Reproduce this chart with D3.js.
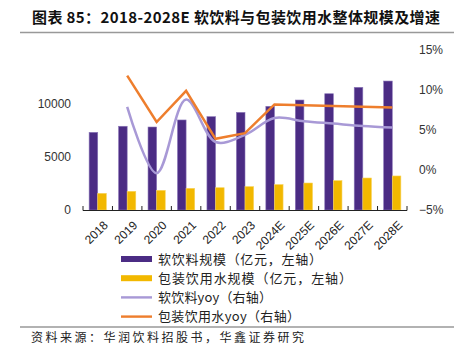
<!DOCTYPE html>
<html>
<head>
<meta charset="utf-8">
<script src="https://cdn.jsdelivr.net/npm/d3@7"></script>
<style>
  body { margin: 0; background: #fff; }
  text { font-family: "Liberation Sans", Arial, "Noto Sans CJK SC", sans-serif; }
  .cjk { font-family: "Noto Sans CJK SC", sans-serif; }
</style>
</head>
<body>
<script>
var years = ["2018", "2019", "2020", "2021", "2022", "2023", "2024E", "2025E", "2026E", "2027E", "2028E"];
// 亿元
var softDrink = [7280, 7850, 7780, 8440, 8750, 9150, 9720, 10310, 10900, 11500, 12090];
var water = [1560, 1750, 1840, 2030, 2090, 2190, 2380, 2530, 2750, 3000, 3190];
// %
var softYoy = [null, 7.9, -0.4, 8.8, 3.5, 4.4, 6.5, 6.1, 5.8, 5.5, 5.3];
var waterYoy = [null, 11.8, 6.0, 9.9, 3.9, 4.6, 8.2, 8.1, 8.0, 7.9, 7.8];
var leftTicks = [0, 5000, 10000];
var rightTicks = [-5, 0, 5, 10, 15];

var width = 462;
var height = 360;
var svg = d3.select("body")
    .append("svg")
    .attr("width", width)
    .attr("height", height);

// title
svg.append("text")
    .attr("class", "cjk")
    .attr("x", 32)
    .attr("y", 23)
    .attr("font-size", 15)
    .attr("font-weight", "bold")
    .attr("fill", "#111")
    .attr("textLength", 408)
    .attr("lengthAdjust", "spacing")
    .text("图表 85：2018-2028E 软饮料与包装饮用水整体规模及增速");

svg.append("line")
    .attr("x1", 20).attr("x2", 454)
    .attr("y1", 32.5).attr("y2", 32.5)
    .attr("stroke", "#999").attr("stroke-width", 1.5);

var x = d3.scaleBand()
    .domain(years)
    .range([83, 407]);

var yLeft = d3.scaleLinear()
    .domain([0, 15000])
    .range([210, 50]);

var yRight = d3.scaleLinear()
    .domain([-5, 15])
    .range([210, 50]);

// left axis labels
svg.selectAll(".lt")
    .data(leftTicks)
    .enter()
    .append("text")
    .attr("x", 71)
    .attr("y", function (d) { return yLeft(d) })
    .attr("dy", "0.35em")
    .attr("text-anchor", "end")
    .attr("font-size", 12)
    .attr("fill", "#333")
    .text(function (d) { return d });

// right axis labels
svg.selectAll(".rt")
    .data(rightTicks)
    .enter()
    .append("text")
    .attr("x", 419)
    .attr("y", function (d) { return yRight(d) })
    .attr("dy", "0.35em")
    .attr("font-size", 12)
    .attr("fill", "#333")
    .text(function (d) { return (d < 0 ? "\u2212" + (-d) : d) + "%" });

var bw = 8.6;

svg.selectAll(".bar1")
    .data(softDrink)
    .enter()
    .append("rect")
    .attr("x", function (d, i) { return x(years[i]) + x.bandwidth() / 2 - bw })
    .attr("y", function (d) { return yLeft(d) })
    .attr("width", bw)
    .attr("height", function (d) { return 210 - yLeft(d) })
    .attr("fill", "#4B2C84")
    .attr("stroke", "#8a76b8")
    .attr("stroke-width", 0.6);

svg.selectAll(".bar2")
    .data(water)
    .enter()
    .append("rect")
    .attr("x", function (d, i) { return x(years[i]) + x.bandwidth() / 2 })
    .attr("y", function (d) { return yLeft(d) })
    .attr("width", bw)
    .attr("height", function (d) { return 210 - yLeft(d) })
    .attr("fill", "#F2B800")
    .attr("stroke", "#f7d35a")
    .attr("stroke-width", 0.6);

// x axis
svg.append("line")
    .attr("x1", 83).attr("x2", 407)
    .attr("y1", 210.5).attr("y2", 210.5)
    .attr("stroke", "#222").attr("stroke-width", 1.2);

var bounds = years.map(function (d) { return x(d) }).concat([407]);
svg.selectAll(".tick")
    .data(bounds)
    .enter()
    .append("line")
    .attr("x1", function (d) { return d }).attr("x2", function (d) { return d })
    .attr("y1", 206).attr("y2", 210.5)
    .attr("stroke", "#222").attr("stroke-width", 1);

svg.selectAll(".xl")
    .data(years)
    .enter()
    .append("text")
    .attr("transform", function (d) {
        return "translate(" + (x(d) + x.bandwidth() / 2 + 5) + ",220) rotate(-45)";
    })
    .attr("dy", "0.7em")
    .attr("text-anchor", "end")
    .attr("font-size", 12)
    .attr("fill", "#222")
    .text(function (d) { return d });

// lines
var cx = function (d, i) { return x(years[i]) + x.bandwidth() / 2 };

var softLine = d3.line()
    .defined(function (d) { return d != null })
    .x(cx)
    .y(function (d) { return yRight(d) })
    .curve(d3.curveCatmullRom.alpha(0.5));

var waterLine = d3.line()
    .defined(function (d) { return d != null })
    .x(cx)
    .y(function (d) { return yRight(d) });

svg.append("path")
    .attr("d", softLine(softYoy))
    .attr("fill", "none")
    .attr("stroke", "#A899D6")
    .attr("stroke-width", 2.5);

svg.append("path")
    .attr("d", waterLine(waterYoy))
    .attr("fill", "none")
    .attr("stroke", "#EE7E2D")
    .attr("stroke-width", 2.5);

// legend (w = text width in px, full-width punctuation)
var legendItems = [
    { name: "软饮料规模（亿元，左轴）", color: "#4B2C84", type: "bar", w: 164 },
    { name: "包装饮用水规模（亿元，左轴）", color: "#F2B800", type: "bar", w: 194 },
    { name: "软饮料yoy（右轴）", color: "#A899D6", type: "line", w: 114 },
    { name: "包装饮用水yoy（右轴）", color: "#EE7E2D", type: "line", w: 142 }
];

var lg = svg.selectAll(".lg")
    .data(legendItems)
    .enter()
    .append("g")
    .attr("transform", function (d, i) { return "translate(121," + (259 + i * 19.2) + ")" });

lg.append("rect")
    .attr("x", 0)
    .attr("y", function (d) { return d.type == "bar" ? -3 : -1.2 })
    .attr("width", 31)
    .attr("height", function (d) { return d.type == "bar" ? 6 : 2.4 })
    .attr("fill", function (d) { return d.color });

lg.append("text")
    .attr("class", "cjk")
    .attr("x", 37)
    .attr("dy", "0.36em")
    .attr("font-size", 13)
    .attr("textLength", function (d) { return d.w })
    .attr("lengthAdjust", "spacing")
    .attr("fill", "#222")
    .text(function (d) { return d.name });

svg.append("line")
    .attr("x1", 20).attr("x2", 454)
    .attr("y1", 327).attr("y2", 327)
    .attr("stroke", "#999").attr("stroke-width", 1.5);

svg.append("text")
    .attr("class", "cjk")
    .attr("x", 31)
    .attr("y", 342)
    .attr("font-size", 12)
    .attr("textLength", 273)
    .attr("lengthAdjust", "spacing")
    .attr("fill", "#222")
    .text("资料来源：华润饮料招股书，华鑫证券研究");
</script>
</body>
</html>
